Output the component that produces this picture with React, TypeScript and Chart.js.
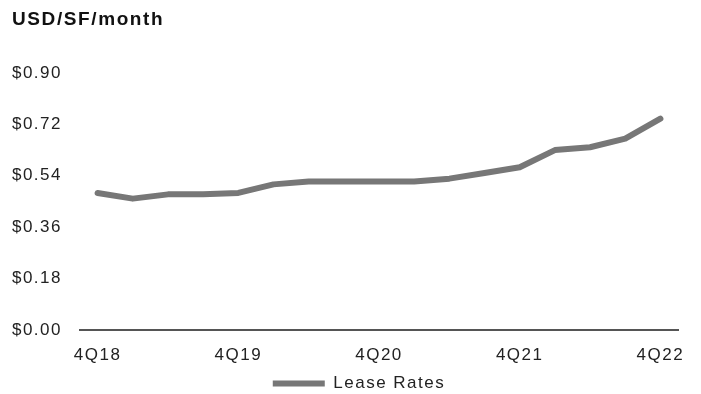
import React, { useEffect, useRef } from "react";
import { Chart, registerables } from "chart.js";

Chart.register(...registerables);

const quarters = [
  "4Q18", "1Q19", "2Q19", "3Q19", "4Q19", "1Q20", "2Q20", "3Q20", "4Q20",
  "1Q21", "2Q21", "3Q21", "4Q21", "1Q22", "2Q22", "3Q22", "4Q22",
];
const leaseRates = [
  0.48, 0.46, 0.475, 0.475, 0.48, 0.51, 0.52, 0.52, 0.52,
  0.52, 0.53, 0.55, 0.57, 0.63, 0.64, 0.67, 0.74,
];
const seriesName = "Lease Rates";
const unitTitle = "USD/SF/month";
const yMin = 0;
const yMax = 0.9;
const yStep = 0.18;
const shownEvery = 4;

const FONT = "'Liberation Sans', Arial, sans-serif";
const SPACING = "1.5px";

const spacingPlugin = {
  id: "letterSpacing",
  beforeLayout(chart: any) {
    chart.ctx.letterSpacing = SPACING;
  },
  afterLayout(chart: any) {
    if (chart.legend) {
      chart.legend.left += 14;
      chart.legend.right += 14;
      chart.legend.top += 8;
      chart.legend.bottom += 8;
    }
  },
  beforeDraw(chart: any) {
    chart.ctx.letterSpacing = SPACING;
  },
};

export default function App() {
  const ref = useRef<HTMLCanvasElement | null>(null);

  useEffect(() => {
    if (!ref.current) return;
    const chart = new Chart(ref.current, {
      type: "line",
      data: {
        labels: quarters,
        datasets: [
          {
            label: seriesName,
            data: leaseRates,
            borderColor: "#777777",
            backgroundColor: "#777777",
            borderWidth: 6,
            borderCapStyle: "round",
            borderJoinStyle: "round",
            pointRadius: 0,
            pointStyle: "line",
            tension: 0,
            fill: false,
          },
        ],
      },
      options: {
        animation: false,
        responsive: false,
        devicePixelRatio: 1,
        layout: { padding: { left: 12, right: 23, top: 73, bottom: 0 } },
        plugins: {
          title: { display: false },
          tooltip: { enabled: false },
          legend: {
            display: true,
            position: "bottom",
            labels: {
              usePointStyle: true,
              pointStyle: "line",
              pointStyleWidth: 52,
              boxHeight: 6,
              color: "#222222",
              padding: 2,
              font: { family: FONT, size: 17 },
            },
          },
        },
        scales: {
          x: {
            type: "category",
            offset: true,
            grid: { display: false, drawTicks: false },
            border: { display: true, color: "#555555", width: 2 },
            ticks: {
              autoSkip: false,
              maxRotation: 0,
              padding: 15,
              color: "#222222",
              font: { family: FONT, size: 17 },
              callback: (_v: any, i: number) => (i % shownEvery === 0 ? quarters[i] : ""),
            },
            afterFit: (s: any) => {
              s.height = 35;
            },
          },
          y: {
            min: yMin,
            max: yMax,
            grid: { display: false, drawTicks: false },
            border: { display: false },
            ticks: {
              stepSize: yStep,
              padding: 18,
              color: "#222222",
              font: { family: FONT, size: 17 },
              callback: (v: any) => "$" + Number(v).toFixed(2),
            },
            afterFit: (s: any) => {
              s.width = 68;
            },
          },
        },
      },
      plugins: [spacingPlugin],
    });
    return () => chart.destroy();
  }, []);

  return (
    <div style={{ position: "fixed", left: 0, top: 0, width: 701, height: 394, background: "#fff" }}>
      <div
        style={{
          position: "absolute",
          left: 12,
          top: 8,
          fontFamily: FONT,
          fontWeight: 700,
          fontSize: 19,
          letterSpacing: "1.6px",
          color: "#111111",
          lineHeight: "normal",
          whiteSpace: "nowrap",
        }}
      >
        {unitTitle}
      </div>
      <canvas ref={ref} width={701} height={394} style={{ display: "block" }} />
    </div>
  );
}
